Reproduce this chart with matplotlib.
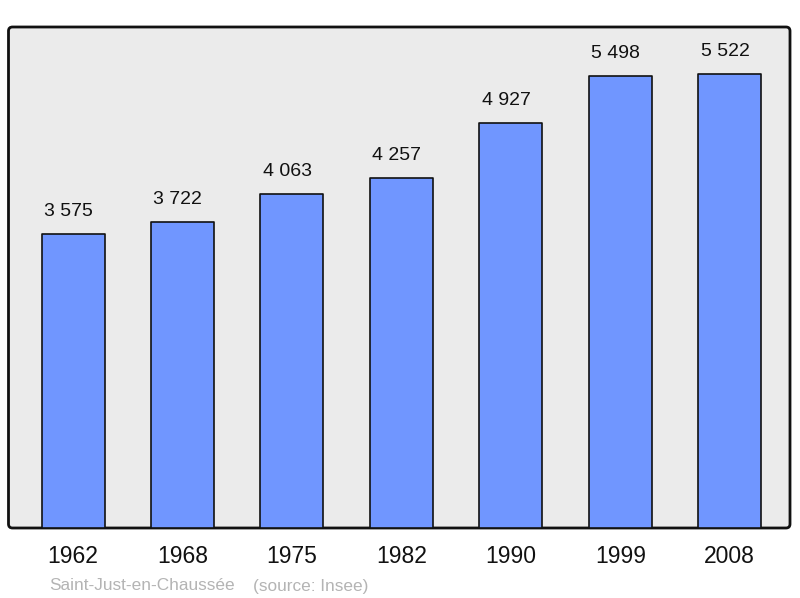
import matplotlib
matplotlib.use("Agg")
import matplotlib.pyplot as plt
from matplotlib.patches import FancyBboxPatch

years = ["1962", "1968", "1975", "1982", "1990", "1999", "2008"]
population = [3575, 3722, 4063, 4257, 4927, 5498, 5522]
value_labels = ["3 575", "3 722", "4 063", "4 257", "4 927", "5 498", "5 522"]

plt.rcParams['font.family'] = ['Liberation Sans', 'DejaVu Sans']

fig = plt.figure(figsize=(8, 5.98), dpi=100)
ax = fig.add_axes([0.0106, 0.117, 0.9769, 0.8378])
ax.set_facecolor('none')
for s in ax.spines.values():
    s.set_visible(False)

# background frame with rounded corners (display/pixel coords)
frame = FancyBboxPatch((8.5, 598 - 528), 781.5, 501,
                       boxstyle="round,pad=0,rounding_size=4",
                       transform=None, facecolor='#ebebeb', edgecolor='#111111',
                       linewidth=2, zorder=0, clip_on=False)
ax.add_artist(frame)

x = list(range(len(years)))
bars = ax.bar(x, population, width=0.576, color='#7096ff', edgecolor='#111111',
              linewidth=1.2, zorder=2)
for b in bars:
    b.set_joinstyle('round')

for xi, v, lab in zip(x, population, value_labels):
    ax.annotate(lab, (xi, v), xytext=(-3.3, 9.8), textcoords='offset points',
                ha='center', va='bottom', fontsize=14, color='#111111', zorder=3)

ax.set_xlim(-0.59, 6.55)
ax.set_ylim(0, 6093)
ax.set_yticks([])
ax.set_xticks(x)
ax.set_xticklabels(years, fontsize=16.5, color='#111111')
ax.tick_params(axis='x', length=0, pad=12.5)

fig.text(49 / 800, 1 - 586 / 598, "Saint-Just-en-Chaussée", fontsize=12.4,
         color='#b4b4b4', ha='left', va='center')
fig.text(253 / 800, 1 - 586 / 598, "(source: Insee)", fontsize=12.4,
         color='#b4b4b4', ha='left', va='center')

fig.savefig("out.png", dpi=100)
